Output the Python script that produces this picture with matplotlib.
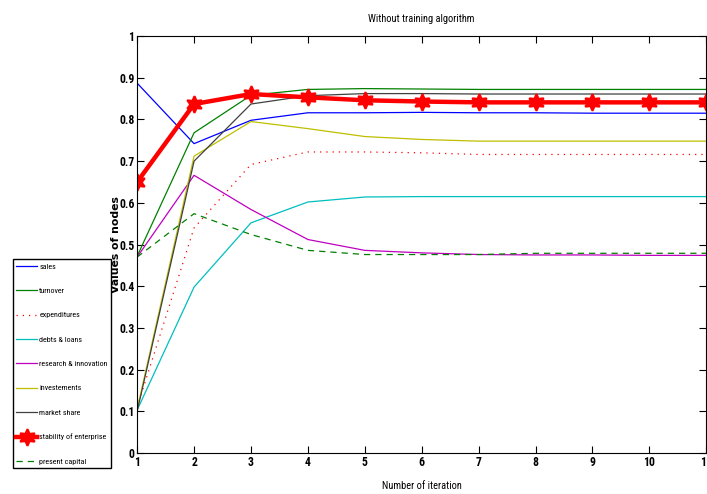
import matplotlib
matplotlib.use("Agg")
import matplotlib.pyplot as plt

plt.rcParams['font.family'] = ['Liberation Sans Narrow', 'Roboto Condensed', 'Open Sans Condensed',
                               'DejaVu Sans']
plt.rcParams['font.stretch'] = 'condensed'

# iterations
iterations = [1, 2, 3, 4, 5, 6, 7, 8, 9, 10, 11]

# node values
sales = [0.887, 0.742, 0.798, 0.816, 0.816, 0.817, 0.816, 0.816, 0.815, 0.815, 0.815]
turnover = [0.472, 0.768, 0.858, 0.872, 0.874, 0.873, 0.872, 0.872, 0.872, 0.872, 0.872]
expenditures = [0.11, 0.54, 0.692, 0.722, 0.722, 0.72, 0.716, 0.716, 0.716, 0.716, 0.716]
debts_loans = [0.103, 0.398, 0.552, 0.602, 0.614, 0.615, 0.615, 0.615, 0.615, 0.615, 0.615]
research = [0.47, 0.666, 0.584, 0.512, 0.486, 0.48, 0.476, 0.475, 0.475, 0.474, 0.474]
investements = [0.105, 0.712, 0.795, 0.778, 0.759, 0.752, 0.748, 0.748, 0.748, 0.748, 0.748]
market_share = [0.1, 0.70, 0.837, 0.857, 0.862, 0.862, 0.861, 0.861, 0.861, 0.861, 0.861]
stability = [0.65, 0.837, 0.861, 0.853, 0.846, 0.843, 0.841, 0.841, 0.841, 0.841, 0.841]
present_capital = [0.47, 0.574, 0.524, 0.486, 0.476, 0.476, 0.476, 0.479, 0.479, 0.479, 0.479]

fig = plt.figure(figsize=(7.07, 4.94), dpi=100)
ax = fig.add_axes([0.194, 0.083, 0.805, 0.844])

ax.plot(iterations, sales, color='blue', lw=0.9, label='sales')
ax.plot(iterations, turnover, color='#008000', lw=0.9, label='turnover')
ax.plot(iterations, expenditures, color='red', lw=0.9, ls=(0, (1, 4)), label='expenditures')
ax.plot(iterations, debts_loans, color='#00bfbf', lw=0.9, label='debts & loans')
ax.plot(iterations, research, color='#bf00bf', lw=0.9, label='research & innovation')
ax.plot(iterations, investements, color='#bfbf00', lw=0.9, label='investements')
ax.plot(iterations, market_share, color='#404040', lw=0.9, label='market share')
ax.plot(iterations, stability, color='red', lw=3.2, marker=(6, 1, 0), ms=12,
        mec='red', mew=1.5, label='stability of enterprise')
ax.plot(iterations, present_capital, color='#008000', lw=0.9, ls=(0, (5, 4)), label='present capital')

ax.set_xlim(1, 11)
ax.set_ylim(0, 1)
ax.set_xticks(iterations)
ax.set_yticks([i / 10 for i in range(11)])
ax.set_yticklabels(['0', '0.1', '0.2', '0.3', '0.4', '0.5', '0.6', '0.7', '0.8', '0.9', '1'])
ax.tick_params(direction='in', top=True, right=True, length=5, width=0.8,
               labelsize=8.5, pad=2)
for lab in ax.get_xticklabels() + ax.get_yticklabels():
    lab.set_fontweight('bold')
for s in ax.spines.values():
    s.set_linewidth(0.8)

ax.set_title('Without training algorithm', fontsize=7.5, pad=10)
ax.set_xlabel('Number of iteration', fontsize=7.5, labelpad=9)
ax.set_ylabel('Values of nodes', fontsize=7.8, fontweight='bold',
              family='DejaVu Sans', fontstretch='normal')
ax.yaxis.set_label_coords(-0.028, 0.5)

leg = fig.legend(loc='lower left', bbox_to_anchor=(0.018, 0.052), fontsize=5.8,
                 fancybox=False, framealpha=1, edgecolor='black', handlelength=2.6,
                 labelspacing=2.2, borderpad=0.45, handletextpad=0.25, borderaxespad=0.0)
leg.get_frame().set_linewidth(1.0)

fig.savefig('out.png', dpi=100)
